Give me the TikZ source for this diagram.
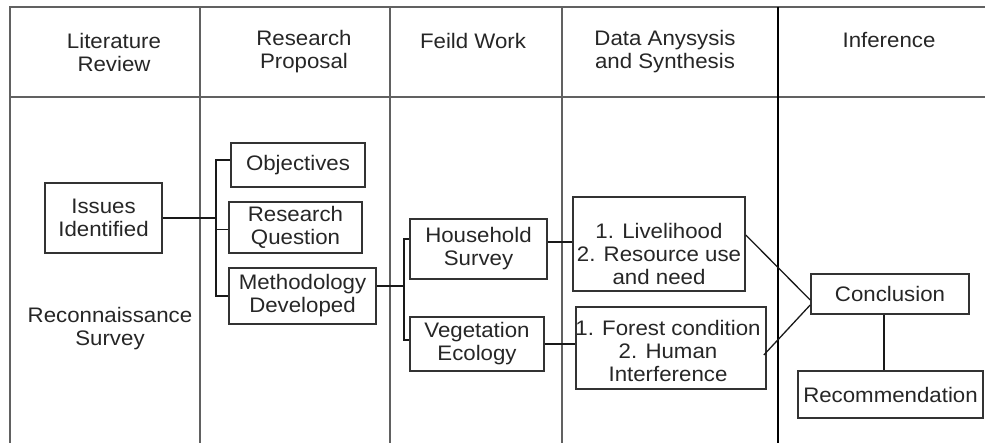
\documentclass[tikz,border=0pt]{standalone}
\usepackage{fontspec}
\setmainfont{Liberation Sans}[FakeStretch=1.06]
\begin{document}
\begin{tikzpicture}[x=1pt,y=-1pt,
  grid/.style={draw=black!62,line width=1.8pt},
  thingrid/.style={draw=black,line width=1.1pt},
  txt/.style={font=\fontsize{21}{23}\selectfont,text=black!85,align=center,inner sep=0pt},
  box/.style={txt,draw=black!80,line width=1.6pt,minimum width=#1},
  link/.style={draw=black!90,line width=1.3pt}
]
\useasboundingbox (0,0) rectangle (985,443);

% swimlane frame
\draw[grid] (985,7) -- (10,7) -- (10,443);
\draw[grid] (10,97) -- (985,97);
\draw[grid] (200,7) -- (200,443);
\draw[grid] (390,7) -- (390,443);
\draw[grid] (562,7) -- (562,443);
\draw[thingrid] (778,7) -- (778,443);

% lane headings
\node[txt] (h1) at (114,52) {Literature\\Review};
\node[txt] (h2) at (304,52) {Research\\Proposal};
\node[txt] (h3) at (473,40.5) {Feild Work};
\node[txt] (h4) at (665,52) {Data Anysysis\\and Synthesis};
\node[txt] (h5) at (889,40.5) {Inference};

% process boxes
\node[box=117pt,minimum height=70pt] (issues) at (103.5,218) {Issues\\Identified};
\node[txt] (recon) at (110,329) {Reconnaissance\\Survey};
\node[box=134pt,minimum height=44pt] (obj) at (298,165) {Objectives};
\node[box=133pt,minimum height=51pt] (rq) at (295.5,227.5) {Research\\Question};
\node[box=147pt,minimum height=56pt] (meth) at (302.5,296) {Methodology\\Developed};
\node[box=137pt,minimum height=60pt] (hh) at (478.5,249) {Household\\Survey};
\node[box=134pt,minimum height=54pt] (veg) at (477,344) {Vegetation\\Ecology};
\node[box=172pt,minimum height=94pt] (liv) at (659,244) {};
\node[txt] (livtext) at (659,254) {1. Livelihood\\2. Resource use\\and need};
\node[box=190pt,minimum height=82pt] (forest) at (671,348) {};
\node[txt] (foresttext) at (668,351) {1. Forest condition\\2. Human\\Interference};
\node[box=158pt,minimum height=40pt] (conc) at (890,294) {Conclusion};
\node[box=185pt,minimum height=47pt] (rec) at (890.5,394.5) {Recommendation};

% bracket joints
\coordinate (bus1) at (216,0);
\coordinate (bus2) at (404,0);

% connectors
\draw[link] (issues.east) -- (issues.east -| bus1);
\draw[link] ([yshift=5pt]obj.west) -- ([yshift=5pt]obj.west -| bus1) -- (meth.west -| bus1) -- (meth.west);
\draw[link] ([yshift=-2pt]rq.west) -- ([yshift=-2pt]rq.west -| bus1);

\draw[link] ([yshift=10pt]meth.east) -- ([yshift=10pt]meth.east -| bus2);
\draw[link] ([yshift=10pt]hh.west) -- ([yshift=10pt]hh.west -| bus2) -- ([yshift=4pt]veg.west -| bus2) -- ([yshift=4pt]veg.west);

\draw[link] ([yshift=7pt]hh.east) -- ([yshift=7pt]hh.east -| liv.west);
\draw[link] (veg.east) -- (veg.east -| forest.west);

\draw[link] ([yshift=9pt]liv.east) -- ([yshift=-6pt]conc.west);
\draw[link] ([xshift=-3pt,yshift=-7pt]forest.east) -- ([yshift=-11pt]conc.west);

\draw[link] ([xshift=-6pt]conc.south) -- ([xshift=-6pt]conc.south |- rec.north);
\end{tikzpicture}
\end{document}
